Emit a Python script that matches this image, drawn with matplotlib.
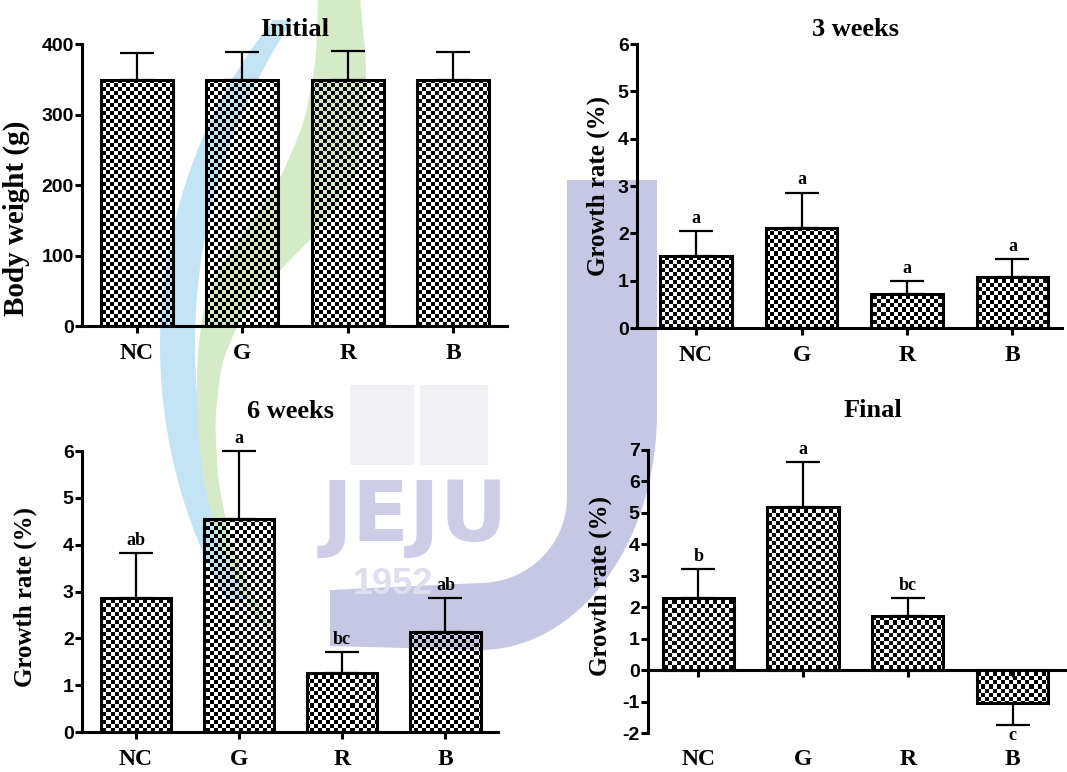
import numpy as np
import matplotlib
matplotlib.use('Agg')
import matplotlib.pyplot as plt
from matplotlib.patches import Polygon, Rectangle

plt.rcParams['axes.unicode_minus'] = False

# data
groups = ['NC', 'G', 'R', 'B']

initial_mean = [349, 349, 349, 349]
initial_err = [38, 39, 41, 39]

week3_mean = [1.52, 2.12, 0.72, 1.08]
week3_err = [0.53, 0.74, 0.28, 0.38]
week3_letters = ['a', 'a', 'a', 'a']

week6_mean = [2.86, 4.55, 1.26, 2.14]
week6_err = [0.96, 1.45, 0.45, 0.72]
week6_letters = ['ab', 'a', 'bc', 'ab']

final_mean = [2.29, 5.19, 1.72, -1.05]
final_err = [0.91, 1.43, 0.57, 0.70]
final_letters = ['b', 'a', 'bc', 'c']

SERIF = 'Liberation Serif'
SANS = 'Liberation Sans'
CELL = 4  # checker cell size in pixels

W, H = 1067, 772
fig = plt.figure(figsize=(W / 100, H / 100), dpi=100)

# ---- faint university watermark behind the charts (pixel coords) ----
bg = fig.add_axes([0, 0, 1, 1], zorder=-5)
bg.set_xlim(0, W)
bg.set_ylim(H, 0)
bg.axis('off')


def swoosh(left, right, yy, color):
    pts = list(zip(left, yy)) + list(zip(right[::-1], yy[::-1]))
    bg.add_patch(Polygon(pts, closed=True, facecolor=color, edgecolor='none'))


# blue swoosh: band between two circle arcs
yb = np.linspace(20, 600, 80)
blue_left = 684 - np.sqrt(524 ** 2 - (yb - 345) ** 2)
blue_right = np.maximum(785 - np.sqrt(590 ** 2 - (yb - 345) ** 2), blue_left)
swoosh(blue_left, blue_right, yb, '#c2e4f5')

# green swoosh: outline points, lightly smoothed
g_y = [0, 60, 120, 180, 230, 270, 310, 360, 420, 480, 540, 600, 640]
g_left = [318, 316, 305, 280, 245, 218, 203, 197, 197, 203, 218, 245, 275]
g_right = [360, 366, 366, 355, 320, 280, 245, 222, 215, 218, 230, 255, 280]
yg = np.linspace(0, 640, 161)
k = np.ones(9) / 9
gl = np.convolve(np.pad(np.interp(yg, g_y, g_left), 4, mode='edge'), k, 'valid')
gr = np.convolve(np.pad(np.interp(yg, g_y, g_right), 4, mode='edge'), k, 'valid')
swoosh(gl, gr, yg, '#d5ebc8')

t = np.linspace(0, np.pi / 2, 40)
outer = [(657, 180)] + list(zip(480 + 177 * np.cos(t), 413 + 237 * np.sin(t))) + [(330, 646)]
inner = [(330, 590)] + list(zip(480 + 87 * np.cos(t[::-1]), 497 + 86 * np.sin(t[::-1]))) + [(567, 180)]
bg.add_patch(Polygon(outer + inner, closed=True, facecolor='#c6c7e4', edgecolor='none'))
bg.add_patch(Rectangle((350, 385), 64, 80, facecolor='#f1f1f5', edgecolor='none'))
bg.add_patch(Rectangle((420, 385), 68, 80, facecolor='#f1f1f5', edgecolor='none'))
bg.text(415, 517, 'JEJU', ha='center', va='center', fontsize=60,
        fontfamily='DejaVu Sans', fontweight='bold', color='#cdcde8')
bg.text(393, 584, '1952', ha='center', va='center', fontsize=26,
        fontfamily=SANS, fontweight='bold', color='#dedeef')


def checker_fill(ax, bars):
    pos = ax.get_position()
    w = pos.width * W
    h = pos.height * H
    nx, ny = int(round(w / CELL)), int(round(h / CELL))
    mask = np.add.outer(np.arange(ny), np.arange(nx)) % 2
    img = np.zeros((ny, nx, 4))
    img[..., 3] = 1 - mask  # black cells opaque, white cells transparent
    for b in bars:
        im = ax.imshow(img, extent=(0, 1, 0, 1), transform=ax.transAxes,
                       aspect='auto', interpolation='nearest', zorder=2)
        im.set_clip_path(b)


def panel(rect, means, errs, letters, ylim, yticks, ylabel, title,
          xlim, title_pad, title_x, label_xy, label_size=18, zero_axis=False):
    ax = fig.add_axes(rect)
    x = np.arange(len(groups))
    bars = ax.bar(x, means, width=0.68, facecolor='none', edgecolor='black',
                  linewidth=2.2, zorder=3)
    checker_fill(ax, bars)
    lower = [e if m < 0 else 0 for m, e in zip(means, errs)]
    upper = [0 if m < 0 else e for m, e in zip(means, errs)]
    ax.errorbar(x, means, yerr=[lower, upper], fmt='none', ecolor='black',
                elinewidth=1.6, capsize=12, capthick=1.6, zorder=1,
                clip_on=False)
    if letters:
        for i, (m, e, s) in enumerate(zip(means, errs, letters)):
            if m >= 0:
                ax.annotate(s, (i, m + e), xytext=(0, 3), textcoords='offset points',
                            ha='center', va='bottom', fontsize=13,
                            fontfamily=SERIF, fontweight='bold')
            else:
                ax.annotate(s, (i, m - e), xytext=(0, -1), textcoords='offset points',
                            ha='center', va='top', fontsize=13,
                            fontfamily=SERIF, fontweight='bold')

    ax.set_xlim(*xlim)
    ax.set_ylim(*ylim)
    ax.set_yticks(yticks)
    ax.set_xticks(x)
    for s in ['top', 'right']:
        ax.spines[s].set_visible(False)
    for s in ['left', 'bottom']:
        ax.spines[s].set_linewidth(2.2)
    ax.tick_params(axis='both', width=2.2, length=5, direction='out')
    ax.tick_params(axis='y', pad=1, labelsize=14)
    for lab in ax.get_yticklabels():
        lab.set_fontfamily(SANS)
        lab.set_fontweight('bold')

    if zero_axis:
        ax.spines['bottom'].set_position(('data', 0))
        ax.tick_params(axis='x', labelbottom=False)
        for i, g in enumerate(groups):
            ax.text(i, -0.095, g, transform=ax.get_xaxis_transform(),
                    ha='center', va='center', fontsize=17,
                    fontfamily=SERIF, fontweight='bold')
    else:
        ax.set_xticklabels(groups, fontsize=17, fontfamily=SERIF,
                           fontweight='bold')
        ax.tick_params(axis='x', pad=7)

    ax.set_ylabel(ylabel, fontsize=label_size, fontfamily=SERIF, fontweight='bold')
    ax.yaxis.set_label_coords(*label_xy)
    ax.set_title(title, fontsize=19, fontfamily=SERIF, fontweight='bold',
                 pad=title_pad, x=title_x)
    ax.patch.set_alpha(0)
    return ax


panel([0.0769, 0.5777, 0.3983, 0.3653], initial_mean, initial_err, None,
      (0, 400), [0, 100, 200, 300, 400], 'Body weight (g)', 'Initial',
      (-0.52, 3.51), 6, 0.5, (-0.122, 0.383), label_size=21)
panel([0.597, 0.5751, 0.3983, 0.3679], week3_mean, week3_err, week3_letters,
      (0, 6), range(0, 7), 'Growth rate (%)', '3 weeks',
      (-0.56, 3.47), 6, 0.515, (-0.064, 0.5))
panel([0.0769, 0.0518, 0.3899, 0.364], week6_mean, week6_err, week6_letters,
      (0, 6), range(0, 7), 'Growth rate (%)', '6 weeks',
      (-0.52, 3.51), 24, 0.5, (-0.108, 0.48))
panel([0.6073, 0.0505, 0.3908, 0.3666], final_mean, final_err, final_letters,
      (-2, 7), range(-2, 8), 'Growth rate (%)', 'Final',
      (-0.48, 3.5), 24, 0.54, (-0.086, 0.52), zero_axis=True)

fig.savefig('out.png', dpi=100)
